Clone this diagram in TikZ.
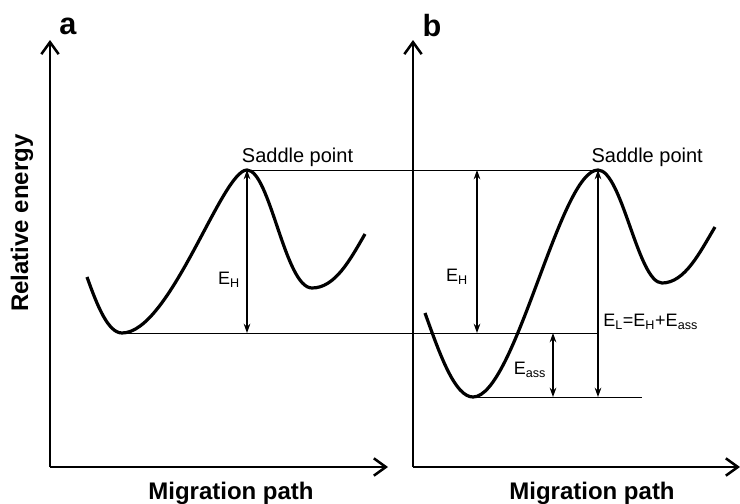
\documentclass[tikz,border=0pt]{standalone}
\usepackage{fontspec}
\setmainfont{Liberation Sans}
\usetikzlibrary{arrows.meta,positioning}

\begin{document}
\begin{tikzpicture}[
  x=0.75pt, y=-0.75pt,
  every node/.style={font=\fontsize{15}{17}\selectfont, inner sep=0pt},
  axisline/.style={line width=1.9pt, -{Straight Barb[length=9pt,width=13pt]}},
  curveline/.style={line width=2.4pt, line join=round},
  levelline/.style={line width=0.7pt},
  gaparr/.style={line width=0.9pt,
    {Stealth[length=7pt,width=5pt]}-{Stealth[length=7pt,width=5pt]}},
  axislabel/.style={font=\bfseries\fontsize{18}{20}\selectfont},
  panellabel/.style={font=\bfseries\fontsize{23}{25}\selectfont},
  elabel/.style={font=\fontsize{13.5}{15}\selectfont},
]
\useasboundingbox (0,0) rectangle (740,504);

% Key points
\coordinate (oA)   at (50,467);
\coordinate (yA)   at (50,40);
\coordinate (xA)   at (388,467);
\coordinate (oB)   at (413,467);
\coordinate (yB)   at (413,40);
\coordinate (xB)   at (740,467);
\coordinate (minA) at (122,333);
\coordinate (pkA)  at (247,170);
\coordinate (minB) at (473,397);
\coordinate (pkB)  at (598,170);
\coordinate (midL) at (598,333);
\coordinate (botR) at (642,397);

% Axes
\draw[axisline] (oA) -- (yA);
\draw[axisline] (oA) -- (xA);
\draw[axisline] (oB) -- (yB);
\draw[axisline] (oB) -- (xB);

% Energy curves
\draw[curveline] (87,277) .. controls (97,305) and (108,333) .. (minA)
  .. controls (170,333) and (222,170) .. (pkA)
  .. controls (270,170) and (285,288) .. (312,288)
  .. controls (335,288) and (350,260) .. (365,234);
\draw[curveline] (425,313) .. controls (440,355) and (455,397) .. (minB)
  .. controls (515,397) and (560,170) .. (pkB)
  .. controls (622,170) and (638,283) .. (662,283)
  .. controls (685,283) and (700,252) .. (715,227);

% Energy levels
\draw[levelline] (pkA) -- (pkB);
\draw[levelline] (minA) -- (midL);
\draw[levelline] (minB) -- (botR);

% Barriers
\draw[gaparr] (pkA) -- (minA -| pkA);
\draw[gaparr] (477,170) -- (477,333);
\draw[gaparr] (553,333) -- (553,397);
\draw[gaparr] (pkB) -- (pkB |- minB);

% Labels
\node[panellabel] (lblA) at (68,26) {a};
\node[panellabel] (lblB) at (432,26) {b};
\node[axislabel, rotate=90] (yleg) at (22,223) {Relative energy};
\node[axislabel] (xlegA) at (231,493) {Migration path};
\node[axislabel] (xlegB) at (592,493) {Migration path};
\node[above right=2pt and -4pt of pkA] (sadA) {Saddle point};
\node[above right=2pt and -5pt of pkB] (sadB) {Saddle point};
\node[elabel] (ehA) at (229,280) {E\textsubscript{H}};
\node[elabel] (ehB) at (457,277) {E\textsubscript{H}};
\node[elabel] (eass) at (530,370) {E\textsubscript{ass}};
\node[elabel, anchor=west] (elsum) at (603,322)
  {E\textsubscript{L}=E\textsubscript{H}+E\textsubscript{ass}};

\end{tikzpicture}
\end{document}
